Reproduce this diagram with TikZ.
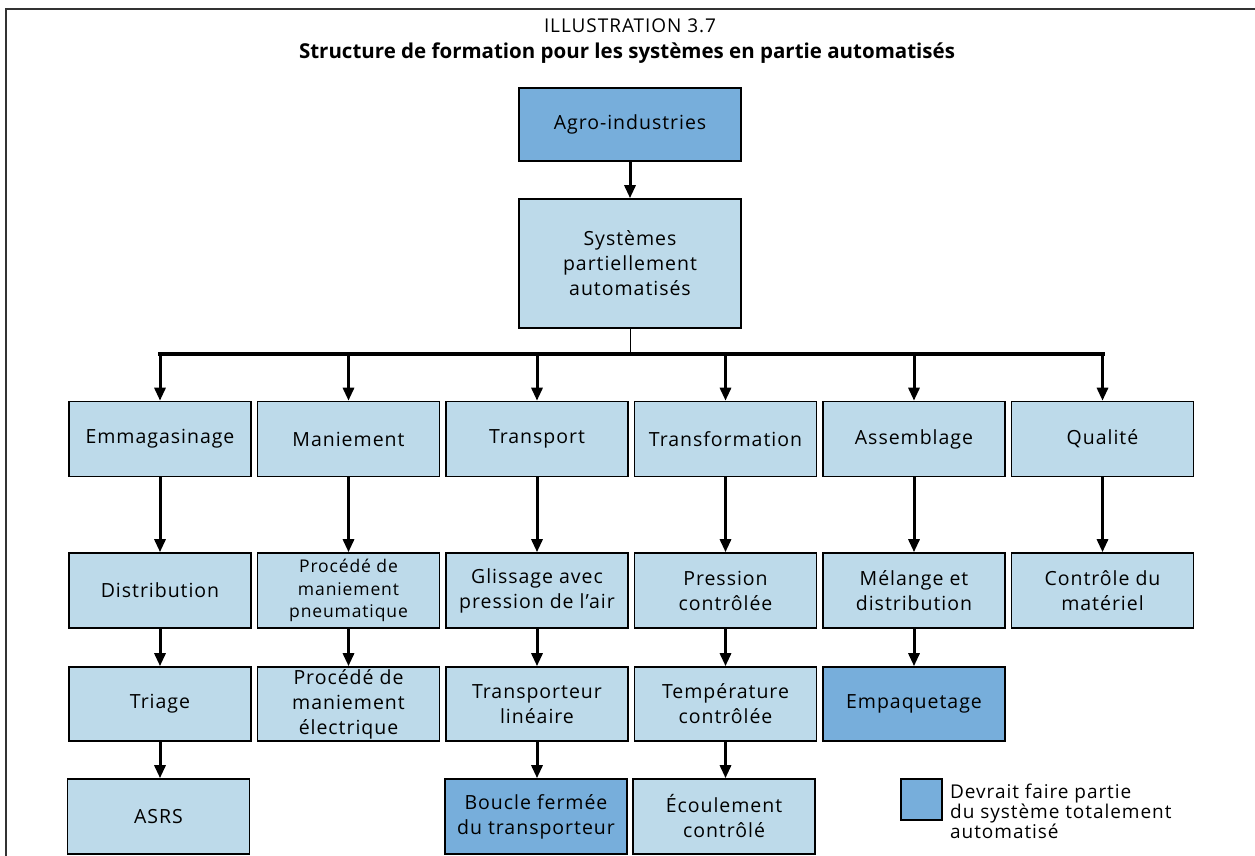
\documentclass[tikz,border=0pt]{standalone}
\usepackage{fontspec}
\setmainfont{Open Sans}
\newfontfamily\boxfont{Open Sans}[LetterSpace=5]
\usetikzlibrary{arrows.meta}
\definecolor{lightb}{HTML}{BDDAEA}
\definecolor{darkb}{HTML}{77AEDB}
\definecolor{framec}{HTML}{333333}
\begin{document}
\begin{tikzpicture}[x=1pt,y=-1pt,
  box/.style={draw=black, line width=1.6pt, fill=lightb, minimum width=182pt, minimum height=75pt,
    inner sep=0pt, align=center, font=\boxfont\fontsize{19.5}{25}\selectfont},
  dbox/.style={box, fill=darkb},
  arr/.style={-{Triangle[length=13pt,width=11pt]}, line width=3pt},
  busline/.style={line width=4pt, line cap=rect},
  thinline/.style={line width=1pt},
  framel/.style={line width=1.5pt, draw=framec}]
\useasboundingbox (0,0) rectangle (1255,856);
% frame
\coordinate (fl) at (6,856);
\coordinate (ftl) at (6,9);
\coordinate (ftr) at (1255,9);
\draw[framel] (fl) -- (ftl) -- (ftr);
% titles
\node[font=\boxfont\fontsize{19}{22}\selectfont] (t1) at (630,26) {ILLUSTRATION 3.7};
\node[font=\bfseries\fontsize{20.5}{24}\selectfont] (t2) at (627,53) {Structure de formation pour les systèmes en partie automatisés};
% top
\node[dbox, minimum width=222pt, minimum height=73pt] (agro) at (630,124.5) {Agro-industries};
\node[box, minimum width=222pt, minimum height=129pt] (sys) at (630,263.5) {Systèmes\\partiellement\\automatisés};
\draw[arr] (agro) -- (sys);
\coordinate (bus) at (630,354);
% row 1
\node[box] (c1r1) at (160,439) {Emmagasinage};
\node[box] (c2r1) at (348.5,439) {Maniement};
\node[box] (c3r1) at (537,439) {Transport};
\node[box] (c4r1) at (725.5,439) {Transformation};
\node[box] (c5r1) at (914,439) {Assemblage};
\node[box] (c6r1) at (1102.5,439) {Qualité};
% row 2
\node[box] (c1r2) at (160,590.5) {Distribution};
\node[box, font=\boxfont\fontsize{17.5}{22.5}\selectfont] (c2r2) at (348.5,590.5) {Procédé de\\maniement\\pneumatique};
\node[box] (c3r2) at (537,590.5) {Glissage avec\\pression de l’air};
\node[box] (c4r2) at (725.5,590.5) {Pression\\contrôlée};
\node[box] (c5r2) at (914,590.5) {Mélange et\\distribution};
\node[box] (c6r2) at (1102.5,590.5) {Contrôle du\\matériel};
% row 3
\node[box, minimum height=74pt] (c1r3) at (160,704) {Triage};
\node[box, minimum height=74pt] (c2r3) at (348.5,704) {Procédé de\\maniement\\électrique};
\node[box, minimum height=74pt] (c3r3) at (537,704) {Transporteur\\linéaire};
\node[box, minimum height=74pt] (c4r3) at (725.5,704) {Température\\contrôlée};
\node[dbox, minimum height=74pt] (c5r3) at (914,704) {Empaquetage};
% row 4
\node[box] (c1r4) at (158.5,816.5) {ASRS};
\node[dbox] (c3r4) at (536,816.5) {Boucle fermée\\du transporteur};
\node[box] (c4r4) at (724,816.5) {Écoulement\\contrôlé};
% bus
\draw[thinline] (sys.south) -- (bus);
\draw[busline] (c1r1.north |- bus) -- (c6r1.north |- bus);
\foreach \c in {c1r1,c2r1,c3r1,c4r1,c5r1,c6r1}{
  \draw[arr] (\c.north |- bus) -- (\c.north);
}
% vertical arrows
\foreach \a/\b in {c1r1/c1r2,c2r1/c2r2,c3r1/c3r2,c4r1/c4r2,c5r1/c5r2,c6r1/c6r2,
                   c1r2/c1r3,c2r2/c2r3,c3r2/c3r3,c4r2/c4r3,c5r2/c5r3}{
  \draw[arr] (\a.south) -- (\b.north);
}
\draw[arr] (c1r3.south) -- (c1r3.south |- c1r4.north);
\draw[arr] (c3r3.south) -- (c3r3.south |- c3r4.north);
\draw[arr] (c4r3.south) -- (c4r3.south |- c4r4.north);
% legend
\node[draw=black, line width=1.5pt, fill=darkb, minimum size=41pt, inner sep=0pt] (leg) at (921.5,799.5) {};
\node[anchor=west, align=left, inner sep=0pt, font=\boxfont\fontsize{19}{18.3}\selectfont] (legt) at (950,811) {Devrait faire partie\\du système totalement\\automatisé};
\end{tikzpicture}
\end{document}
